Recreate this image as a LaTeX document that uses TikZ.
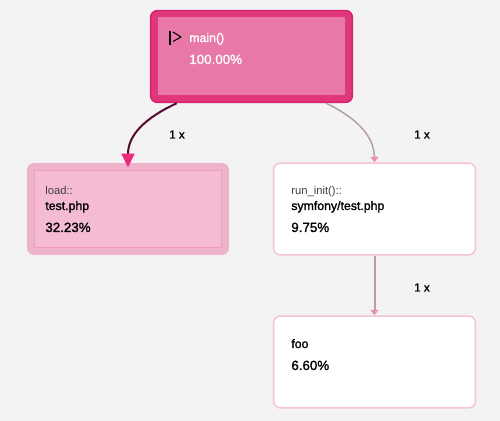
\documentclass[tikz,border=0pt]{standalone}
\usepackage{fontspec}
\setmainfont{Liberation Sans}
\newfontfamily\mediumfont[FakeBold=1.4]{Liberation Sans}
\usetikzlibrary{arrows.meta}
\definecolor{pagegray}{HTML}{F3F3F3}
\definecolor{mainouter}{HTML}{E0367A}
\definecolor{mainedge}{HTML}{D42370}
\definecolor{maininner}{HTML}{E878A6}
\definecolor{loadouter}{HTML}{EFB2CB}
\definecolor{loadinner}{HTML}{F4BBD3}
\definecolor{loadedge}{HTML}{EE9DBE}
\definecolor{plainedge}{HTML}{F5C3D6}
\definecolor{heavyline}{HTML}{560A30}
\definecolor{lightline}{HTML}{B5A0AA}
\definecolor{heavytip}{HTML}{EC2A7E}
\definecolor{lighttip}{HTML}{EC8FB4}
\tikzset{
  outerbox/.style={rounded corners=0.14cm, minimum width=4.04cm, minimum height=1.84cm, inner sep=0pt},
  innerbox/.style={minimum width=3.76cm, minimum height=1.56cm, inner sep=0pt},
  plainbox/.style={outerbox, draw=plainedge, fill=white, line width=0.03cm},
  fname/.style={anchor=base west, inner sep=0pt, font=\fontsize{6.4}{7}\selectfont},
  fbold/.style={fname, font=\fontsize{7}{8}\mediumfont},
  fpct/.style={fname, font=\fontsize{7.6}{8}\mediumfont},
  count/.style={inner sep=0pt, font=\fontsize{6.6}{7}\mediumfont},
  heavycall/.style={draw=heavyline, line width=0.04cm, -{Triangle[width=0.26cm, length=0.28cm, color=heavytip]}},
  lightcall/.style={draw=lightline, line width=0.03cm, -{Triangle[width=0.16cm, length=0.11cm, color=lighttip]}}
}
\begin{document}
\begin{tikzpicture}[x=0.02cm, y=-0.02cm]
  \useasboundingbox (0,0) rectangle (500,421);
  \fill [pagegray] (0,0) rectangle (500,421);
  %main block
  \node [outerbox, draw=mainedge, fill=mainouter, line width=0.03cm] (main) at (251.5,56.5) {};
  \node [innerbox, fill=maininner] (maininside) at (251.5,56.5) {};
  \draw [black, line width=0.025cm] (170,31) -- (170,45);
  \draw [black, line width=0.02cm, line join=round] (173,32) -- (181,37) -- (173,41.5);
  \node [fbold, text=white] (mainname) at (189,42) {main()};
  \node [fpct, text=white] (mainpct) at (189,64) {100.00\%};
  %load block
  \node [outerbox, fill=loadouter] (load) at (128,209) {};
  \node [innerbox, draw=loadedge, fill=loadinner, line width=0.02cm] (loadinside) at (128,209) {};
  \node [fname, text=black!75] (loadname) at (45,195) {load::};
  \node [fbold] (loadfile) at (45,210) {test.php};
  \node [fpct] (loadpct) at (45,232) {32.23\%};
  %run_init block
  \node [plainbox] (runinit) at (374.5,209) {};
  \node [fname, text=black!75] (runname) at (291,195) {run\_init()::};
  \node [fbold] (runfile) at (291,210) {symfony/test.php};
  \node [fpct] (runpct) at (291,232) {9.75\%};
  %foo block
  \node [plainbox] (foo) at (374.5,362) {};
  \node [fbold] (fooname) at (291,348) {foo};
  \node [fpct] (foopct) at (291,370) {6.60\%};
  %calls
  \draw [heavycall, shorten >=0.04cm] (main.212) .. controls (145,118) and (128,135) .. (loadinside.north);
  \draw [lightcall] (main.328) .. controls (350,115) and (374,132) .. (runinit.north);
  \draw [lightcall, line width=0.04cm] (runinit.south) -- (foo.north);
  \node [count] (countload) at (177,134.5) {1 x};
  \node [count] (countrun) at (422,134.5) {1 x};
  \node [count] (countfoo) at (422,287.5) {1 x};
\end{tikzpicture}
\end{document}
